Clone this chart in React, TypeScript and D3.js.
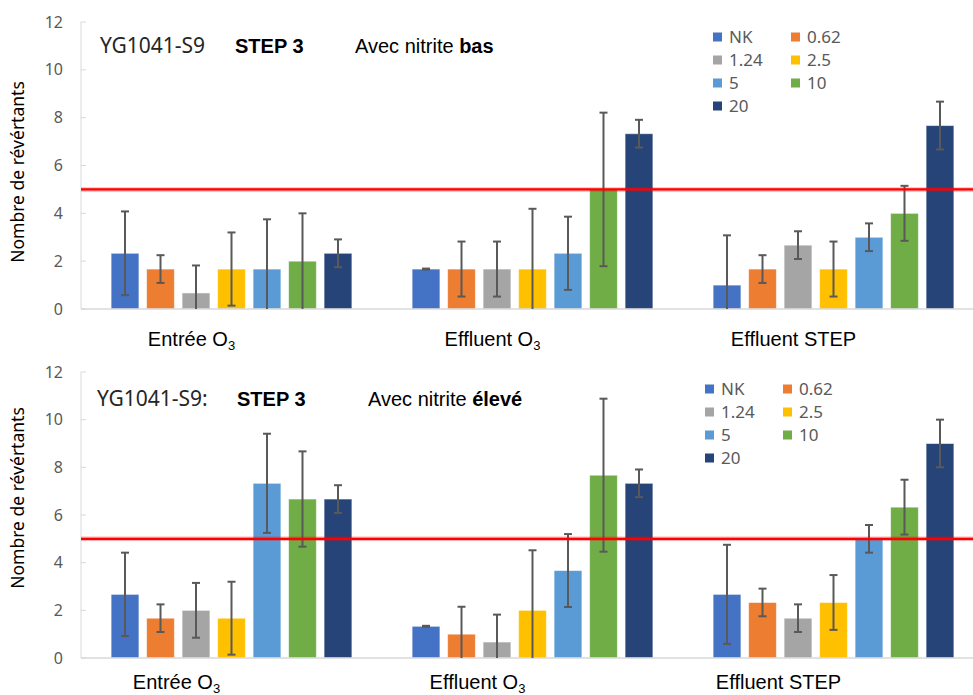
import * as d3 from "d3";

const categories = ["Entrée O3", "Effluent O3", "Effluent STEP"];
const doses = ["NK", "0.62", "1.24", "2.5", "5", "10", "20"];
const doseColors = ["#4472C4", "#ED7D31", "#A5A5A5", "#FFC000", "#5B9BD5", "#70AD47", "#264478"];
const yTicks = [0, 2, 4, 6, 8, 10, 12];
const threshold = 5;

// avec nitrite bas
const basMeans = [
  [2.33, 1.67, 0.67, 1.67, 1.67, 2.0, 2.33],
  [1.67, 1.67, 1.67, 1.67, 2.33, 5.0, 7.33],
  [1.0, 1.67, 2.67, 1.67, 3.0, 4.0, 7.67],
];
const basErrors = [
  [1.75, 0.58, 1.15, 1.53, 2.08, 2.0, 0.58],
  [0.02, 1.15, 1.15, 2.52, 1.53, 3.21, 0.58],
  [2.08, 0.58, 0.58, 1.15, 0.58, 1.15, 1.0],
];

// avec nitrite élevé
const eleveMeans = [
  [2.67, 1.67, 2.0, 1.67, 7.33, 6.67, 6.67],
  [1.33, 1.0, 0.67, 2.0, 3.67, 7.67, 7.33],
  [2.67, 2.33, 1.67, 2.33, 5.0, 6.33, 9.0],
];
const eleveErrors = [
  [1.75, 0.58, 1.15, 1.53, 2.08, 2.0, 0.58],
  [0.02, 1.15, 1.15, 2.52, 1.53, 3.21, 0.58],
  [2.08, 0.58, 0.58, 1.15, 0.58, 1.15, 1.0],
];

const W = 973;
const H = 695;
const axisX = 81;
const sans = "'Noto Sans', 'Open Sans', sans-serif";
const arial = "'Liberation Sans', Arial, sans-serif";

const x0 = d3.scaleBand<string>().domain(categories).range([axisX, 984]).paddingInner(0.2).paddingOuter(0.1);
const x1 = d3.scaleBand<string>().domain(doses).range([0, x0.bandwidth()]).paddingInner(0.216);

function CatLabel({ text, x, y }: { text: string; x: number; y: number }) {
  const m = text.match(/^(.*O)3$/);
  return (
    <text x={x} y={y} textAnchor="middle" fontFamily={arial} fontSize={20} fill="#000">
      {m ? (
        <>
          {m[1]}
          <tspan fontSize={13} dy={4}>3</tspan>
        </>
      ) : (
        text
      )}
    </text>
  );
}

function Panel(props: {
  means: number[][];
  errors: number[][];
  yTop: number;
  yZero: number;
  header: { id: string; idX: number; stepX: number; nitX: number; level: string; dy: number };
  legend: { x: number; y: number };
  labelShift: number;
  labelDy: number;
  titleY: number;
}) {
  const { means, errors, yTop, yZero, header, legend, labelShift, labelDy, titleY } = props;
  const y = d3.scaleLinear().domain([0, 12]).range([yZero, yTop]);
  const hy = yTop + header.dy;
  return (
    <g>
      {/* axis */}
      <line x1={axisX} x2={axisX} y1={y(12)} y2={y(0)} stroke="#d9d9d9" strokeWidth={1} />
      {yTicks.map((t) => (
        <g key={t}>
          <line x1={axisX} x2={axisX + 5} y1={y(t)} y2={y(t)} stroke="#d9d9d9" strokeWidth={1} />
          <text x={63} y={y(t)} dy="0.35em" textAnchor="end" fontFamily={sans} fontSize={16} fill="#595959">
            {t}
          </text>
        </g>
      ))}
      <text
        transform={`translate(18,${titleY}) rotate(-90)`}
        textAnchor="middle"
        dy="0.35em"
        fontFamily={sans}
        fontSize={17.5}
        fill="#000"
      >
        Nombre de révértants
      </text>

      {/* bars */}
      {categories.map((c, ci) =>
        doses.map((d, di) => {
          const v = means[ci][di];
          const bx = (x0(c) as number) + (x1(d) as number);
          return (
            <rect
              key={c + d}
              x={bx}
              y={y(v)}
              width={x1.bandwidth()}
              height={y(0) - y(v)}
              fill={doseColors[di]}
              stroke="#ffffff"
              strokeOpacity={0.55}
              strokeWidth={1}
            />
          );
        })
      )}
      <line x1={axisX} x2={W} y1={y(0)} y2={y(0)} stroke="#d9d9d9" strokeWidth={1.5} />

      {/* error bars */}
      {categories.map((c, ci) =>
        doses.map((d, di) => {
          const v = means[ci][di];
          const e = errors[ci][di];
          const cx = (x0(c) as number) + (x1(d) as number) + x1.bandwidth() / 2;
          const hi = v + e;
          const lo = v - e;
          return (
            <g key={"e" + c + d} stroke="#595959" strokeWidth={2}>
              <line x1={cx} x2={cx} y1={y(hi)} y2={y(Math.max(0, lo))} />
              <line x1={cx - 4} x2={cx + 4} y1={y(hi)} y2={y(hi)} />
              {lo > 0 && <line x1={cx - 4} x2={cx + 4} y1={y(lo)} y2={y(lo)} />}
            </g>
          );
        })
      )}

      {/* threshold */}
      <line x1={axisX} x2={W} y1={y(threshold)} y2={y(threshold)} stroke="#ff0000" strokeOpacity={0.3} strokeWidth={4.5} />
      <line x1={axisX} x2={W} y1={y(threshold)} y2={y(threshold)} stroke="#ff0000" strokeWidth={2.2} />

      {/* category labels */}
      {categories.map((c) => (
        <CatLabel key={c} text={c} x={(x0(c) as number) + x0.bandwidth() / 2 + labelShift} y={yZero + labelDy} />
      ))}

      {/* header */}
      <text x={header.idX} y={hy} fontFamily={sans} fontSize={21} fill="#262626">
        {header.id}
      </text>
      <text x={header.stepX} y={hy} fontFamily={arial} fontSize={20} fontWeight="bold" fill="#000">
        STEP 3
      </text>
      <text x={header.nitX} y={hy} fontFamily={arial} fontSize={20} fill="#000">
        Avec nitrite <tspan fontWeight="bold">{header.level}</tspan>
      </text>

      {/* legend */}
      {doses.map((d, i) => {
        const col = i % 2;
        const row = Math.floor(i / 2);
        const lx = legend.x + col * 78;
        const ly = legend.y + row * 23;
        return (
          <g key={"l" + d}>
            <rect x={lx} y={ly - 4.5} width={9} height={9} fill={doseColors[i]} />
            <text x={lx + 16} y={ly} dy="0.35em" fontFamily={sans} fontSize={17} fill="#595959">
              {d}
            </text>
          </g>
        );
      })}
    </g>
  );
}

export default function App() {
  return (
    <div style={{ position: "absolute", left: 0, top: 0 }}>
      <svg width={W} height={H} style={{ display: "block", background: "#fff" }}>
        <Panel
          means={basMeans}
          errors={basErrors}
          yTop={22}
          yZero={309}
          header={{ id: "YG1041-S9", idX: 100, stepX: 235, nitX: 355, level: "bas", dy: 31 }}
          legend={{ x: 713, y: 37 }}
          labelShift={-40}
          labelDy={37}
          titleY={172}
        />
        <Panel
          means={eleveMeans}
          errors={eleveErrors}
          yTop={372}
          yZero={658}
          header={{ id: "YG1041-S9:", idX: 97, stepX: 237, nitX: 368, level: "élevé", dy: 34 }}
          legend={{ x: 705, y: 389 }}
          labelShift={-55}
          labelDy={31}
          titleY={498}
        />
      </svg>
    </div>
  );
}
